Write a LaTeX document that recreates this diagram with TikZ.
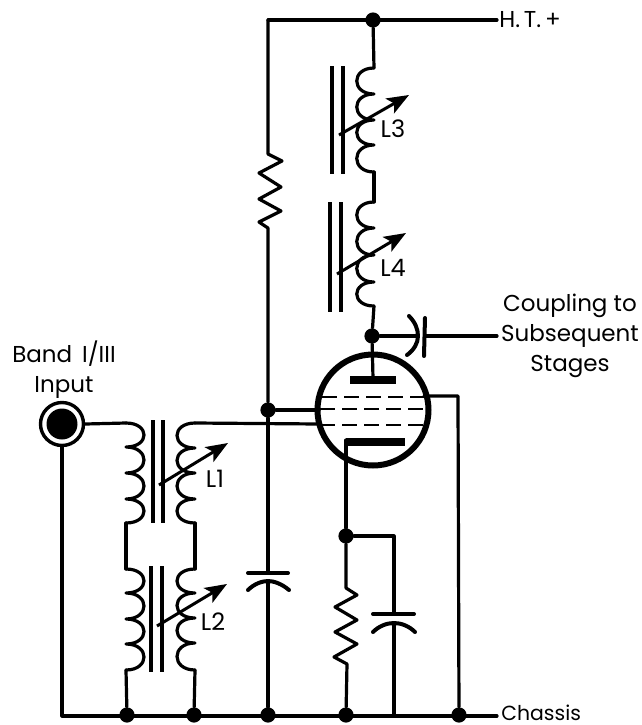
\documentclass[tikz,border=0pt]{standalone}
\usepackage{fontspec}
\setmainfont{Poppins}
\usetikzlibrary{arrows.meta}
\tikzset{
  wire/.style={line width=1.6pt,line cap=round,line join=round,black},
  coreline/.style={wire,line width=2.1pt,line cap=butt},
  tune/.style={line width=1.5pt,black,-{Stealth[length=11pt,width=8.5pt,inset=2.5pt]}},
  dot/.style={circle,fill=black,inner sep=0pt,minimum size=7.6pt},
  lab/.style={font=\fontsize{11.5}{14.9}\selectfont,inner sep=0pt,align=center,text=black},
  gridline/.style={line width=1.4pt,black,dash pattern=on 7.5pt off 3.5pt}
}
\newcommand{\coil}[8]{%
  \draw[wire] (#2,#4) .. controls ++(#3,0) and (#2+#3,#5) .. (#2,#5)
    .. controls ++(#3,0) and (#2+#3,#6) .. (#2,#6)
    .. controls ++(#3,0) and (#2+#3,#7) .. (#2,#7)
    .. controls ++(#3,0) and (#2+#3,#8) .. (#2,#8);
  \coordinate (#1t) at (#2,#4);
  \coordinate (#1b) at (#2,#8);}
\begin{document}
\begin{tikzpicture}[x=0.5pt,y=-0.5pt]
\useasboundingbox (0,0) rectangle (642,725);
% labels
\node[lab,anchor=west] (ht) at (499,20) {H.\,T.\,+};
\node[lab,anchor=west,font=\fontsize{10.2}{12}\selectfont] (ch) at (501,713) {Chassis};
\node[lab] (cp) at (570,336) {Coupling to\\Subsequent\\Stages};
\node[lab] (in) at (64,370) {Band\, I/III\\Input};
\node[lab,font=\fontsize{12}{14}\selectfont] (l1) at (215,479) {L1};
\node[lab,font=\fontsize{12}{14}\selectfont] (l2) at (213,622) {L2};
\node[lab,font=\fontsize{12}{14}\selectfont] (l3) at (393,129) {L3};
\node[lab,font=\fontsize{12}{14}\selectfont] (l4) at (393,268) {L4};
% free wire ends
\coordinate (htend) at (497,20);
\coordinate (chend) at (497,716);
\coordinate (cpend) at (497,336);
\coordinate (tl) at (268,20);
\coordinate (bl) at (62,716);
% input socket
\node[circle,draw=black,line width=1.7pt,fill=white,minimum size=21.5pt,inner sep=0pt] (sock) at (62,424) {};
\node[circle,fill=black,minimum size=15.5pt,inner sep=0pt] (sockc) at (62,424) {};
\draw[wire] (sock.south) -- (bl) -- (chend);
% coils
\coil{pa}{126}{24}{423}{447}{473}{499}{523}
\coil{pb}{126}{24}{569}{593}{619}{644}{670}
\coil{sa}{195}{-24}{423}{448}{473}{499}{523}
\coil{sb}{195}{-24}{569}{593}{618}{643}{670}
\coil{sc}{374}{-23}{68}{94}{120}{145}{172}
\coil{sd}{374}{-23}{202}{228}{255}{282}{306}
% cores
\draw[coreline] (153,420)--(153,523) (163,420)--(163,523);
\draw[coreline] (151,566)--(151,672) (162,566)--(162,672);
\draw[coreline] (332,66)--(332,174) (343,66)--(343,174);
\draw[coreline] (330,202)--(330,312) (341,202)--(341,312);
% tuning arrows
\draw[tune] (159,485) -- (228,443);
\draw[tune] (157,626) -- (227,584);
\draw[tune] (339,135) -- (409,95);
\draw[tune] (337,274) -- (406,233);
% junctions
\node[dot] (jtop) at (373,20) {};
\node[dot] (jplate) at (372,336) {};
\node[dot] (jscreen) at (268,410) {};
\node[dot] (jcath) at (346,536) {};
\node[dot] (g1) at (127,715) {};
\node[dot] (g2) at (194,715) {};
\node[dot] (g3) at (268,715) {};
\node[dot] (g4) at (346,715) {};
\node[dot] (g5) at (459,715) {};
% coil wiring
\draw[wire] (sock.east) -- (pat);
\draw[wire] (pab) -- (pbt);
\draw[wire] (pbb) -- (g1);
\draw[wire] (sab) -- (sbt);
\draw[wire] (sbb) -- (g2);
\draw[wire] (jtop) -- (sct);
\draw[wire] (scb) -- (sdt);
\draw[wire] (sdb) -- (jplate);
% top rail and screen resistor
\draw[wire] (htend) -- (tl);
\coordinate (r1t) at (268,154);
\coordinate (r1b) at (268,228);
\draw[wire] (tl) -- (r1t) -- (282,161) -- (259,173) -- (281,187) -- (259,199) -- (281,211) -- (259,222) -- (r1b) -- (jscreen);
% capacitor C1
\coordinate (c1a) at (268,573);
\coordinate (c1b) at (268,581);
\draw[wire] (jscreen) -- (c1a);
\draw[wire] (c1b) -- (g3);
\draw[wire,line width=2pt] (248,573) -- (288,573);
\draw[wire,line width=2pt] (248,590) .. controls (254,584) and (262,581) .. (c1b) .. controls (274,581) and (282,584) .. (289,590);
% valve
\node[circle,draw=black,line width=3pt,fill=white,minimum size=55.5pt,inner sep=0pt] (valve) at (373,410) {};
\draw[wire] (jplate) -- (373,378);
\node[fill=black,inner sep=0pt,minimum width=23pt,minimum height=3.6pt] (anode) at (373,380) {};
\draw[wire] (jscreen) -- (319,410);
\draw[wire] (sat) -- (319,424);
\draw[gridline] (322,397) -- (424,397);
\draw[gridline] (320,409) -- (425,409);
\draw[gridline] (320,425) -- (424,425);
% suppressor to rail
\coordinate (gk) at (458,396);
\draw[wire] (424,396) -- (gk) -- (g5);
% cathode
\node[fill=black,inner sep=0pt,minimum width=29.5pt,minimum height=4.4pt] (cathode) at (375,442) {};
\coordinate (ck) at (346,440);
\draw[wire] (ck) -- (jcath);
% cathode resistor
\coordinate (r2t) at (346,582);
\coordinate (r2b) at (347,664);
\draw[wire] (jcath) -- (r2t) -- (346,588) -- (357,595) -- (335,607) -- (357,620) -- (335,632) -- (357,644) -- (334,657) -- (r2b) -- (g4);
% capacitor C2
\coordinate (c2j) at (394,536);
\coordinate (c2a) at (394,614);
\coordinate (c2b) at (394,623);
\coordinate (c2g) at (394,715);
\draw[wire] (jcath) -- (c2j) -- (c2a);
\draw[wire] (c2b) -- (c2g);
\draw[wire,line width=2pt] (373,614) -- (414,614);
\draw[wire,line width=2pt] (373,632) .. controls (379,626) and (387,623) .. (c2b) .. controls (401,623) and (409,626) .. (415,632);
% coupling capacitor
\coordinate (cca) at (418,336);
\coordinate (ccb) at (425,336);
\draw[wire] (jplate) -- (cca);
\draw[wire] (ccb) -- (cpend);
\draw[wire,line width=2pt] (409,316) .. controls (415,322) and (418,329) .. (cca) .. controls (418,343) and (414,350) .. (407,355);
\draw[wire,line width=2pt] (425,318) -- (424,356);
\end{tikzpicture}
\end{document}
